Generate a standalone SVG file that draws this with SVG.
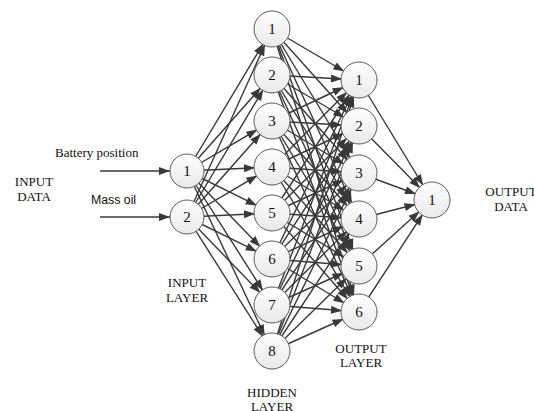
<svg xmlns="http://www.w3.org/2000/svg" width="534" height="411" viewBox="0 0 534 411">
<defs>
<linearGradient id="g" x1="0" y1="0" x2="0" y2="1"><stop offset="0" stop-color="#ffffff"/><stop offset="1" stop-color="#e9e9e9"/></linearGradient>
<marker id="a" markerUnits="userSpaceOnUse" markerWidth="11" markerHeight="8" refX="28" refY="4" orient="auto" overflow="visible"><path d="M0,0 L11,4 L0,8 Z" fill="#383838"/></marker>
<marker id="b" markerUnits="userSpaceOnUse" markerWidth="11" markerHeight="8" refX="11" refY="4" orient="auto" overflow="visible"><path d="M0,0 L11,4 L0,8 Z" fill="#383838"/></marker>
</defs>
<style>
.c line{stroke:#383838;stroke-width:1.4;marker-end:url(#a)}
.c line.in{marker-end:url(#b)}
.n circle{fill:url(#g);stroke:#5a5a5a;stroke-width:1}
.n text{font-size:15px;text-anchor:middle;fill:#111}
.t{font-size:13px;fill:#111}
.m{text-anchor:middle}
</style>
<g id="connectors" class="c">
<line class="in" x1="100" y1="171" x2="170" y2="171"/>
<line class="in" x1="100" y1="217" x2="170" y2="217"/>
<line x1="187" y1="171" x2="272" y2="29"/><line x1="187" y1="171" x2="272" y2="75"/><line x1="187" y1="171" x2="272" y2="121"/><line x1="187" y1="171" x2="272" y2="167"/><line x1="187" y1="171" x2="272" y2="213"/><line x1="187" y1="171" x2="272" y2="259"/><line x1="187" y1="171" x2="272" y2="305"/><line x1="187" y1="171" x2="272" y2="351"/>
<line x1="187" y1="217" x2="272" y2="29"/><line x1="187" y1="217" x2="272" y2="75"/><line x1="187" y1="217" x2="272" y2="121"/><line x1="187" y1="217" x2="272" y2="167"/><line x1="187" y1="217" x2="272" y2="213"/><line x1="187" y1="217" x2="272" y2="259"/><line x1="187" y1="217" x2="272" y2="305"/><line x1="187" y1="217" x2="272" y2="351"/>
<line x1="272" y1="29" x2="359" y2="80"/><line x1="272" y1="29" x2="359" y2="126"/><line x1="272" y1="29" x2="359" y2="173"/><line x1="272" y1="29" x2="359" y2="219"/><line x1="272" y1="29" x2="359" y2="266"/><line x1="272" y1="29" x2="359" y2="312"/>
<line x1="272" y1="75" x2="359" y2="80"/><line x1="272" y1="75" x2="359" y2="126"/><line x1="272" y1="75" x2="359" y2="173"/><line x1="272" y1="75" x2="359" y2="219"/><line x1="272" y1="75" x2="359" y2="266"/><line x1="272" y1="75" x2="359" y2="312"/>
<line x1="272" y1="121" x2="359" y2="80"/><line x1="272" y1="121" x2="359" y2="126"/><line x1="272" y1="121" x2="359" y2="173"/><line x1="272" y1="121" x2="359" y2="219"/><line x1="272" y1="121" x2="359" y2="266"/><line x1="272" y1="121" x2="359" y2="312"/>
<line x1="272" y1="167" x2="359" y2="80"/><line x1="272" y1="167" x2="359" y2="126"/><line x1="272" y1="167" x2="359" y2="173"/><line x1="272" y1="167" x2="359" y2="219"/><line x1="272" y1="167" x2="359" y2="266"/><line x1="272" y1="167" x2="359" y2="312"/>
<line x1="272" y1="213" x2="359" y2="80"/><line x1="272" y1="213" x2="359" y2="126"/><line x1="272" y1="213" x2="359" y2="173"/><line x1="272" y1="213" x2="359" y2="219"/><line x1="272" y1="213" x2="359" y2="266"/><line x1="272" y1="213" x2="359" y2="312"/>
<line x1="272" y1="259" x2="359" y2="80"/><line x1="272" y1="259" x2="359" y2="126"/><line x1="272" y1="259" x2="359" y2="173"/><line x1="272" y1="259" x2="359" y2="219"/><line x1="272" y1="259" x2="359" y2="266"/><line x1="272" y1="259" x2="359" y2="312"/>
<line x1="272" y1="305" x2="359" y2="80"/><line x1="272" y1="305" x2="359" y2="126"/><line x1="272" y1="305" x2="359" y2="173"/><line x1="272" y1="305" x2="359" y2="219"/><line x1="272" y1="305" x2="359" y2="266"/><line x1="272" y1="305" x2="359" y2="312"/>
<line x1="272" y1="351" x2="359" y2="80"/><line x1="272" y1="351" x2="359" y2="126"/><line x1="272" y1="351" x2="359" y2="173"/><line x1="272" y1="351" x2="359" y2="219"/><line x1="272" y1="351" x2="359" y2="266"/><line x1="272" y1="351" x2="359" y2="312"/>
<line x1="359" y1="80" x2="432" y2="200"/><line x1="359" y1="126" x2="432" y2="200"/><line x1="359" y1="173" x2="432" y2="200"/><line x1="359" y1="219" x2="432" y2="200"/><line x1="359" y1="266" x2="432" y2="200"/><line x1="359" y1="312" x2="432" y2="200"/>
</g>
<g font-family="Liberation Serif, serif">
<g id="in1" class="n"><circle cx="187" cy="171" r="17"/><text x="187" y="176">1</text></g>
<g id="in2" class="n"><circle cx="187" cy="217" r="17"/><text x="187" y="222">2</text></g>
<g id="h1" class="n"><circle cx="272" cy="29" r="18"/><text x="272" y="34">1</text></g>
<g id="h2" class="n"><circle cx="272" cy="75" r="18"/><text x="272" y="80">2</text></g>
<g id="h3" class="n"><circle cx="272" cy="121" r="18"/><text x="272" y="126">3</text></g>
<g id="h4" class="n"><circle cx="272" cy="167" r="18"/><text x="272" y="172">4</text></g>
<g id="h5" class="n"><circle cx="272" cy="213" r="18"/><text x="272" y="218">5</text></g>
<g id="h6" class="n"><circle cx="272" cy="259" r="18"/><text x="272" y="264">6</text></g>
<g id="h7" class="n"><circle cx="272" cy="305" r="18"/><text x="272" y="310">7</text></g>
<g id="h8" class="n"><circle cx="272" cy="351" r="18"/><text x="272" y="356">8</text></g>
<g id="o1" class="n"><circle cx="359" cy="80" r="18"/><text x="359" y="85">1</text></g>
<g id="o2" class="n"><circle cx="359" cy="126" r="18"/><text x="359" y="131">2</text></g>
<g id="o3" class="n"><circle cx="359" cy="173" r="18"/><text x="359" y="178">3</text></g>
<g id="o4" class="n"><circle cx="359" cy="219" r="18"/><text x="359" y="224">4</text></g>
<g id="o5" class="n"><circle cx="359" cy="266" r="18"/><text x="359" y="271">5</text></g>
<g id="o6" class="n"><circle cx="359" cy="312" r="18"/><text x="359" y="317">6</text></g>
<g id="out" class="n"><circle cx="432" cy="200" r="18"/><text x="432" y="205">1</text></g>
<g id="labels">
<text class="t" x="55" y="157" font-size="13.5">Battery position</text>
<text x="91" y="204" font-family="Liberation Sans, sans-serif" font-size="12.3" fill="#111">Mass oil</text>
<text class="t m" x="34" y="186">INPUT</text><text class="t m" x="34" y="201">DATA</text>
<text class="t m" x="187" y="287">INPUT</text><text class="t m" x="187" y="302">LAYER</text>
<text class="t m" x="361" y="353">OUTPUT</text><text class="t m" x="361" y="367">LAYER</text>
<text class="t m" x="272" y="397">HIDDEN</text><text class="t m" x="272" y="411">LAYER</text>
<text class="t m" x="511" y="196">OUTPUT</text><text class="t m" x="511" y="211">DATA</text>
</g>
</g>
</svg>
